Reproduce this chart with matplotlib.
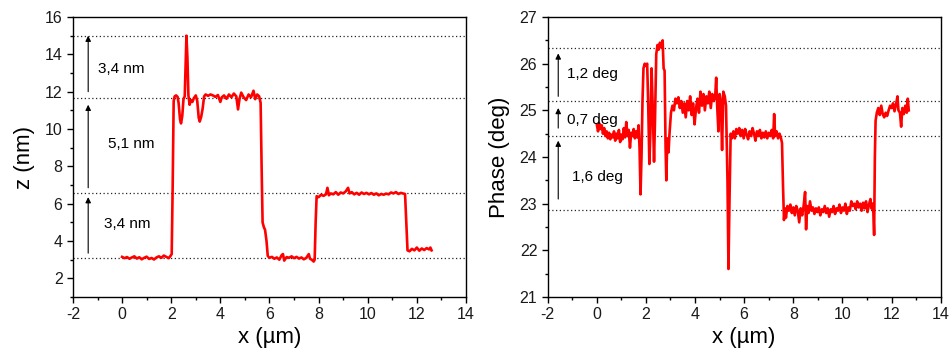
import matplotlib
matplotlib.use('Agg')
import matplotlib.pyplot as plt
from matplotlib.ticker import MultipleLocator

plt.rcParams['font.family'] = ['Liberation Sans', 'DejaVu Sans']
plt.rcParams['axes.unicode_minus'] = False

# height profile: x (um), z (nm)
x_z = [0.00, 0.10, 0.20, 0.30, 0.40, 0.50, 0.60, 0.70, 0.80, 0.90,
       1.00, 1.10, 1.20, 1.30, 1.40, 1.50, 1.60, 1.70, 1.80, 1.90,
       1.97, 2.02, 2.06, 2.10, 2.14, 2.20, 2.26, 2.30, 2.36, 2.40,
       2.45, 2.50, 2.55, 2.59, 2.62, 2.66, 2.70, 2.75, 2.80, 2.86,
       2.92, 3.00, 3.06, 3.12, 3.16, 3.22, 3.28, 3.34, 3.40, 3.50,
       3.60, 3.70, 3.80, 3.90, 4.00, 4.06, 4.15, 4.25, 4.35, 4.45,
       4.55, 4.65, 4.72, 4.78, 4.85, 4.95, 5.05, 5.15, 5.25, 5.35,
       5.42, 5.50, 5.58, 5.64, 5.68, 5.72, 5.77, 5.82, 5.88, 5.93,
       6.00, 6.10, 6.20, 6.30, 6.40, 6.50, 6.55, 6.60, 6.70, 6.80,
       6.90, 7.00, 7.10, 7.20, 7.30, 7.40, 7.50, 7.60, 7.65, 7.72,
       7.80, 7.84, 7.88, 7.92, 8.00, 8.10, 8.20, 8.30, 8.36, 8.42,
       8.50, 8.60, 8.70, 8.80, 8.90, 9.00, 9.10, 9.20, 9.26, 9.35,
       9.45, 9.55, 9.65, 9.75, 9.85, 9.95, 10.05, 10.15, 10.25, 10.35,
       10.45, 10.55, 10.65, 10.75, 10.85, 10.95, 11.05, 11.15, 11.25, 11.35,
       11.45, 11.52, 11.57, 11.62, 11.70, 11.80, 11.90, 12.00, 12.10, 12.20,
       12.30, 12.40, 12.50, 12.55, 12.60]
z_nm = [3.15, 3.08, 3.14, 3.05, 3.12, 3.18, 3.06, 3.13, 3.02, 3.10,
        3.16, 3.04, 3.09, 3.01, 3.12, 3.18, 3.10, 3.22, 3.15, 3.08,
        3.20, 3.30, 7.00, 11.50, 11.75, 11.80, 11.72, 11.40, 10.50, 10.30,
        10.70, 11.60, 11.75, 13.50, 15.00, 13.80, 11.80, 11.30, 11.55, 11.45,
        11.65, 11.80, 11.50, 10.60, 10.40, 10.65, 11.10, 11.75, 11.85, 11.78,
        11.85, 11.80, 11.72, 11.82, 11.45, 11.70, 11.80, 11.62, 11.85, 11.70,
        11.90, 11.75, 11.05, 11.60, 11.95, 11.70, 11.55, 11.85, 11.70, 12.05,
        11.60, 11.85, 11.75, 11.40, 8.00, 5.00, 4.75, 4.60, 4.00, 3.20,
        3.10, 3.15, 3.05, 3.12, 3.00, 3.25, 3.30, 2.95, 3.14, 3.10,
        3.18, 3.08, 3.15, 3.06, 3.12, 3.02, 3.10, 3.30, 3.05, 3.00,
        2.90, 3.00, 5.00, 6.40, 6.35, 6.48, 6.42, 6.50, 6.85, 6.45,
        6.55, 6.50, 6.62, 6.48, 6.60, 6.55, 6.65, 6.85, 6.55, 6.62,
        6.50, 6.58, 6.48, 6.60, 6.52, 6.58, 6.50, 6.57, 6.48, 6.55,
        6.45, 6.52, 6.48, 6.54, 6.50, 6.60, 6.55, 6.62, 6.52, 6.58,
        6.54, 6.52, 5.00, 3.50, 3.45, 3.58, 3.50, 3.65, 3.48, 3.60,
        3.52, 3.62, 3.55, 3.65, 3.50]

# phase profile: x (um), phase (deg)
x_ph = [0.00, 0.05, 0.10, 0.15, 0.20, 0.25, 0.30, 0.35, 0.40, 0.45,
        0.50, 0.55, 0.60, 0.65, 0.70, 0.75, 0.80, 0.85, 0.90, 0.95,
        1.00, 1.05, 1.10, 1.15, 1.20, 1.25, 1.30, 1.35, 1.40, 1.45,
        1.50, 1.55, 1.60, 1.65, 1.70, 1.74, 1.78, 1.82, 1.86, 1.90,
        1.95, 2.00, 2.05, 2.09, 2.14, 2.18, 2.23, 2.28, 2.33, 2.37,
        2.42, 2.47, 2.52, 2.57, 2.62, 2.68, 2.72, 2.76, 2.80, 2.83,
        2.87, 2.92, 2.96, 3.02, 3.08, 3.14, 3.20, 3.26, 3.32, 3.38,
        3.44, 3.50, 3.56, 3.62, 3.68, 3.74, 3.80, 3.86, 3.92, 3.98,
        4.04, 4.10, 4.16, 4.22, 4.28, 4.34, 4.40, 4.46, 4.52, 4.58,
        4.64, 4.70, 4.76, 4.82, 4.86, 4.90, 4.95, 5.00, 5.05, 5.10,
        5.15, 5.21, 5.26, 5.32, 5.36, 5.40, 5.45, 5.50, 5.56, 5.62,
        5.68, 5.74, 5.80, 5.86, 5.92, 5.98, 6.04, 6.10, 6.16, 6.22,
        6.28, 6.34, 6.40, 6.46, 6.52, 6.58, 6.64, 6.70, 6.76, 6.82,
        6.88, 6.94, 7.00, 7.06, 7.12, 7.18, 7.22, 7.26, 7.32, 7.38,
        7.44, 7.50, 7.54, 7.58, 7.62, 7.66, 7.70, 7.76, 7.82, 7.88,
        7.94, 8.00, 8.06, 8.12, 8.18, 8.24, 8.30, 8.36, 8.42, 8.48,
        8.52, 8.56, 8.62, 8.68, 8.74, 8.80, 8.86, 8.92, 8.98, 9.04,
        9.10, 9.16, 9.22, 9.28, 9.34, 9.40, 9.46, 9.52, 9.58, 9.64,
        9.70, 9.76, 9.82, 9.88, 9.94, 10.00, 10.06, 10.12, 10.18, 10.24,
        10.30, 10.36, 10.42, 10.48, 10.54, 10.60, 10.66, 10.72, 10.78, 10.84,
        10.90, 10.96, 11.02, 11.08, 11.14, 11.18, 11.22, 11.26, 11.29, 11.32,
        11.35, 11.40, 11.46, 11.52, 11.58, 11.64, 11.70, 11.76, 11.82, 11.88,
        11.94, 12.00, 12.06, 12.12, 12.18, 12.24, 12.28, 12.34, 12.39, 12.44,
        12.50, 12.56, 12.62, 12.66, 12.70]
phase = [24.70, 24.55, 24.72, 24.60, 24.68, 24.50, 24.62, 24.45, 24.55, 24.40,
         24.52, 24.38, 24.48, 24.42, 24.55, 24.35, 24.50, 24.40, 24.58, 24.32,
         24.48, 24.38, 24.62, 24.42, 24.75, 24.45, 24.58, 24.20, 24.52, 24.45,
         24.60, 24.40, 24.55, 24.42, 24.68, 24.20, 23.20, 24.00, 25.20, 25.90,
         26.00, 25.95, 26.00, 25.20, 23.85, 24.50, 25.90, 25.00, 23.90, 24.80,
         26.20, 26.40, 26.30, 26.45, 26.35, 26.50, 25.90, 25.85, 24.20, 23.50,
         24.40, 24.10, 24.50, 24.95, 25.10, 25.00, 25.25, 25.15, 25.28, 25.05,
         25.20, 24.95, 25.15, 24.85, 25.20, 25.00, 25.30, 24.90, 25.15, 24.70,
         25.05, 25.25, 24.95, 25.40, 25.10, 25.35, 25.00, 25.30, 25.15, 25.40,
         25.05, 25.35, 25.20, 25.30, 25.70, 25.10, 24.55, 25.35, 25.20, 24.15,
         25.40, 25.30, 25.10, 23.50, 21.60, 23.00, 24.50, 24.40, 24.55, 24.40,
         24.60, 24.50, 24.62, 24.45, 24.58, 24.40, 24.60, 24.48, 24.38, 24.55,
         24.45, 24.62, 24.50, 24.35, 24.55, 24.45, 24.58, 24.40, 24.52, 24.42,
         24.55, 24.40, 24.52, 24.45, 24.58, 24.40, 24.92, 24.45, 24.55, 24.40,
         24.50, 24.40, 24.30, 23.40, 22.65, 22.90, 22.70, 22.95, 22.85, 22.98,
         22.80, 22.92, 22.75, 22.95, 22.85, 22.60, 22.90, 22.75, 22.95, 23.25,
         22.45, 22.95, 22.80, 23.05, 22.85, 22.92, 22.78, 22.90, 22.82, 22.92,
         22.75, 22.88, 22.82, 22.95, 22.80, 22.90, 22.72, 22.88, 22.82, 22.95,
         22.78, 22.90, 22.85, 22.98, 22.80, 22.92, 22.85, 23.00, 22.78, 22.92,
         22.85, 23.05, 22.95, 23.00, 22.88, 23.05, 22.92, 23.00, 22.85, 23.02,
         22.90, 23.05, 22.82, 22.98, 23.10, 22.90, 23.00, 22.80, 22.33, 24.00,
         24.78, 24.95, 25.05, 24.90, 25.10, 24.92, 24.85, 24.95, 24.88, 25.00,
         25.10, 25.05, 25.15, 24.98, 25.12, 25.30, 25.00, 24.95, 24.65, 25.05,
         24.92, 25.10, 24.95, 25.25, 25.00]

# reference levels and step annotations
z_levels = [15.0, 11.65, 6.55, 3.1]
z_steps = [(3.35, 6.35, '3,4 nm', -0.73, 4.9),
           (6.85, 11.3, '5,1 nm', -0.59, 9.2),
           (12.0, 15.0, '3,4 nm', -0.97, 13.2)]
ph_levels = [26.33, 25.19, 24.46, 22.86]
ph_steps = [(23.1, 24.35, '1,6 deg', -1.02, 23.58),
            (24.62, 25.05, '0,7 deg', -1.2, 24.79),
            (25.3, 26.22, '1,2 deg', -1.2, 25.78)]

fig = plt.figure(figsize=(9.5, 3.53), dpi=100)
ax1 = fig.add_axes([0.0768, 0.1586, 0.4137, 0.7932])
ax2 = fig.add_axes([0.5765, 0.1586, 0.4137, 0.7932])


def style(ax, ylim, ymaj, ymin, ylabel):
    ax.set_xlim(-2, 14)
    ax.set_ylim(*ylim)
    ax.xaxis.set_major_locator(MultipleLocator(2))
    ax.xaxis.set_minor_locator(MultipleLocator(1))
    ax.yaxis.set_major_locator(MultipleLocator(ymaj))
    ax.yaxis.set_minor_locator(MultipleLocator(ymin))
    ax.tick_params(which='both', direction='out', labelsize=11.5, width=1.0,
                   top=False, right=False, labelcolor='#1a1a1a')
    ax.tick_params(which='major', length=4)
    ax.tick_params(which='minor', length=2.5)
    for s in ax.spines.values():
        s.set_linewidth(1.0)
    ax.set_xlabel('x (µm)', fontsize=16, labelpad=3)
    ax.set_ylabel(ylabel, fontsize=16, labelpad=7)


for ax, xs, ys, levels, steps, ax_x in [
        (ax1, x_z, z_nm, z_levels, z_steps, -1.38),
        (ax2, x_ph, phase, ph_levels, ph_steps, -1.57)]:
    for lv in levels:
        ax.axhline(lv, color='0.15', ls=(0, (1, 2)), lw=0.9)
    ax.plot(xs, ys, color='#ff0000', lw=1.9)
    for y0, y1, txt, tx, ty in steps:
        ax.annotate('', xy=(ax_x, y1), xytext=(ax_x, y0),
                    arrowprops=dict(arrowstyle='-|>', color='k', lw=0.8,
                                    mutation_scale=8, shrinkA=0, shrinkB=0))
        ax.text(tx, ty, txt, fontsize=11, va='center', ha='left')

style(ax1, (1, 16), 2, 1, 'z (nm)')
style(ax2, (21, 27), 1, 0.5, 'Phase (deg)')

fig.savefig('out.png', dpi=100)
